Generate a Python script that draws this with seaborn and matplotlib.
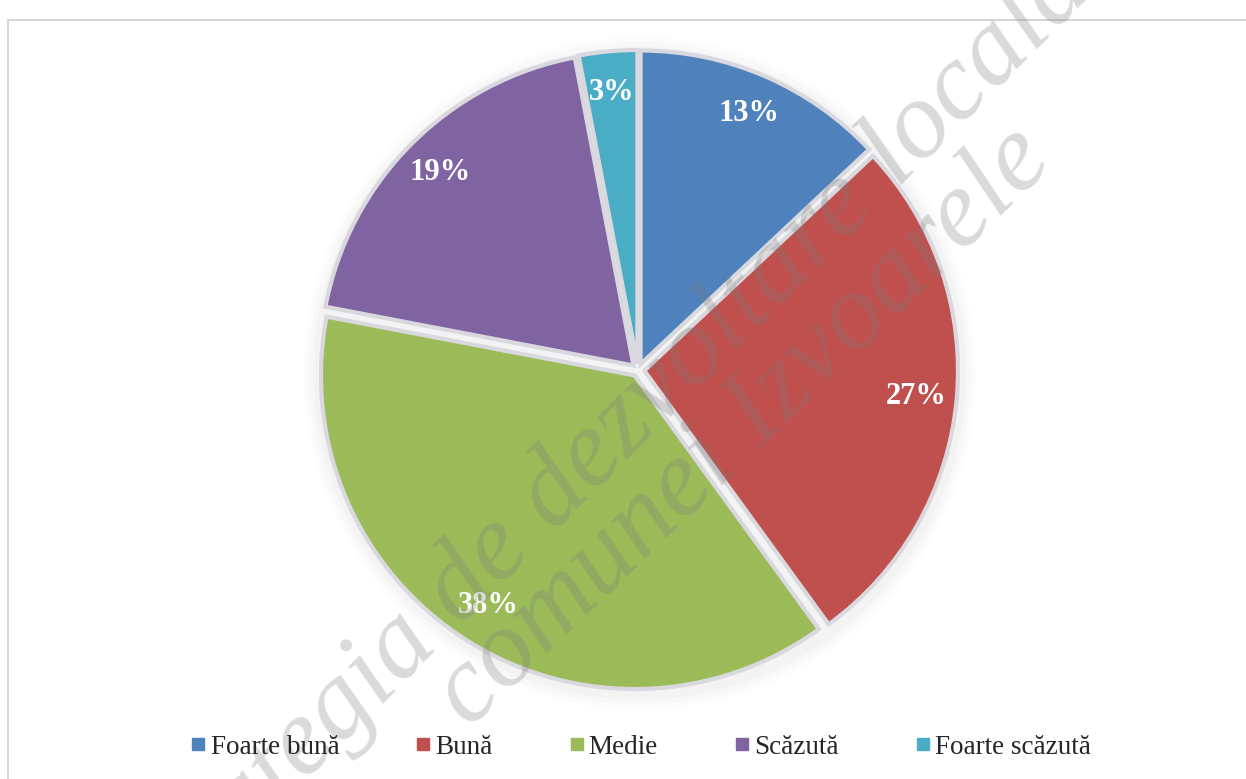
import matplotlib
matplotlib.use("Agg")
from matplotlib import pyplot as plt
from matplotlib.patches import Rectangle, Circle
from matplotlib.lines import Line2D
import seaborn as sns

categories = ['Foarte bună', 'Bună', 'Medie', 'Scăzută', 'Foarte scăzută']
shares = [13, 27, 38, 19, 3]
colors = ['#4F81BD', '#C0504D', '#9BBB59', '#8064A2', '#4BACC6']
watermark = ['Strategia de dezvoltare locală', 'comunei Izvoarele']

sns.set_theme(style="white")
plt.rcParams['font.family'] = ['Liberation Serif', 'DejaVu Serif']

fig = plt.figure(figsize=(12.46, 7.79), dpi=100)
fig.patch.set_facecolor('white')

# thin frame of the chart area
fig.patches.append(Rectangle((8 / 1246, -0.01), 1.0, 1 - 20 / 779 + 0.01,
                             transform=fig.transFigure, fill=False,
                             edgecolor='#d6d6d6', linewidth=1.5))

ax = fig.add_axes([286 / 1246, 57 / 779, 704 / 1246, 704 / 779])

# soft glow behind the pie
for r, a in [(1.05, 0.025), (1.035, 0.035), (1.02, 0.05)]:
    ax.add_patch(Circle((0.005, -0.01), r, color='#9a9aa8', alpha=a, lw=0, zorder=0))

palette = sns.color_palette(colors)
wedges, texts, autotexts = ax.pie(
    shares, colors=palette, startangle=90, counterclock=False, radius=0.98,
    explode=[0.02] * len(shares), autopct='%1.0f%%', pctdistance=0.87,
    wedgeprops=dict(edgecolor='#d8d8de', linewidth=3),
    textprops=dict(color='white', fontsize=22, fontweight='bold'))
ax.set_xlim(-1.1, 1.1)
ax.set_ylim(-1.1, 1.1)
ax.set_aspect('equal')
ax.axis('off')

handles = [Line2D([0], [0], marker='s', linestyle='none', markersize=9,
                  markerfacecolor=c, markeredgecolor=c) for c in colors]
fig.legend(handles, categories, loc='center', bbox_to_anchor=(0.514, 0.041),
           ncol=5, frameon=False, fontsize=19.5, handlelength=0.6,
           handletextpad=0.15, columnspacing=2.8)

# scanned-document watermark
fig.text(0.485, 0.43, watermark[0], rotation=45, fontsize=80, fontstyle='italic',
         color='#7a7a7a', alpha=0.28, ha='center', va='center')
fig.text(0.597, 0.452, watermark[1], rotation=44, fontsize=80, fontstyle='italic',
         color='#7a7a7a', alpha=0.28, ha='center', va='center')

fig.savefig('out.png', dpi=100, facecolor='white')
